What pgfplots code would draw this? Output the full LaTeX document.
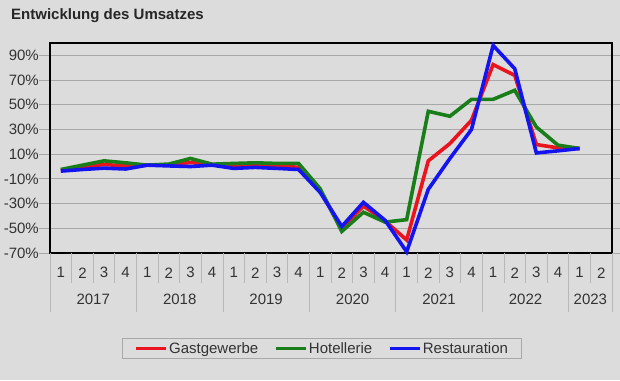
\documentclass[border=0pt]{standalone}
\usepackage{pgfplots}
\pgfplotsset{compat=1.18}
\usepackage{fontspec}
\setmainfont{Liberation Sans}
\definecolor{bg}{HTML}{DCDCDC}
\definecolor{gridc}{HTML}{A8A8A8}
\definecolor{sepc}{HTML}{B8B8B8}
\definecolor{txt}{HTML}{333333}
\definecolor{cred}{RGB}{235,20,30}
\definecolor{cgreen}{RGB}{25,125,25}
\definecolor{cblue}{RGB}{20,20,240}
\pgfplotstableread{
q G H R
0 -3.0 -2.4 -3.7
1 -0.5 1.1 -2.4
2 1.7 4.6 -1.3
3 0.4 3.0 -2.0
4 1.1 1.1 1.1
5 1.3 2.0 0.5
6 3.3 6.5 0.0
7 1.5 1.9 1.1
8 1.0 2.5 -1.5
9 1.0 3.0 -0.7
10 0.0 2.5 -1.5
11 -0.5 2.5 -2.4
12 -20.0 -18.0 -21.0
13 -50.0 -52.5 -48.5
14 -32.0 -37.0 -29.0
15 -44.0 -45.0 -43.5
16 -59.5 -43.0 -69.0
17 4.6 44.7 -18.5
18 18.6 40.7 6.5
19 37.5 54.4 30.0
20 82.5 54.4 98.0
21 73.8 61.7 79.2
22 17.8 32.0 11.0
23 15.1 17.3 12.7
24 14.6 14.6 14.6
}\datatable
\begin{document}
\begin{tikzpicture}[x=1pt,y=1pt]
\fill[bg] (0,0) rectangle (620,380);
\useasboundingbox (0,0) rectangle (620,380);
\node[anchor=west, inner sep=0pt, font=\bfseries\fontsize{15}{18}\selectfont, text=black!85] at (11,364) {Entwicklung des Umsatzes};
\begin{axis}[
  at={(50pt,127pt)}, anchor=south west, scale only axis,
  width=562pt, height=210pt,
  xmin=-0.5, xmax=25.5, ymin=-70, ymax=100,
  xtick={0,...,25},
  xticklabels={1,2,3,4,1,2,3,4,1,2,3,4,1,2,3,4,1,2,3,4,1,2,3,4,1,2},
  xtick style={draw=none},
  xticklabel style={anchor=center, yshift=-8.8pt, inner sep=0pt},
  ytick={-70,-50,...,90},
  ytick style={draw=gridc, line width=1pt},
  tick align=outside, major tick length=11pt,
  yticklabel={\pgfmathprintnumber{\tick}\%},
  /pgf/number format/assume math mode=true,
  yticklabel style={anchor=east, inner sep=0pt},
  ticklabel style={font=\fontsize{15}{18}\selectfont, text=txt},
  ymajorgrids, grid style={draw=gridc, line width=1pt},
  axis line style={line width=1.3pt, black},
  axis background/.style={fill=bg},
  clip=false,
  legend style={at={(0.4835,-0.454)}, anchor=center, legend columns=3,
    draw=gridc, fill=bg, line width=0.8pt, inner xsep=12pt, inner ysep=2pt,
    font=\fontsize{15}{18}\selectfont, text=txt,
    nodes={inner xsep=1.5pt, inner ysep=2pt},
    /tikz/every even column/.append style={column sep=14pt}},
  legend image code/.code={\draw[#1] (0pt,0pt) -- (30pt,0pt);},
  every axis plot/.append style={line width=3.6pt, line join=miter},
]
\addplot[cred] table[x=q, y=G] {\datatable};
\addlegendentry{Gastgewerbe}
\addplot[cgreen] table[x=q, y=H] {\datatable};
\addlegendentry{Hotellerie}
\addplot[cblue] table[x=q, y=R] {\datatable};
\addlegendentry{Restauration}
\end{axis}
\foreach \k in {1,2,3,5,6,7,9,10,11,13,14,15,17,18,19,21,22,23,25} {
  \draw[sepc, line width=0.8pt] ({50+562/26*\k},127) -- ++(0,-30);
}
\foreach \k in {0,4,8,12,16,20,24,26} {
  \draw[sepc, line width=0.8pt] ({50+562/26*\k},127) -- ++(0,-59);
}
\foreach \c/\y in {1.5/2017,5.5/2018,9.5/2019,13.5/2020,17.5/2021,21.5/2022,24.5/2023} {
  \node[font=\fontsize{15}{18}\selectfont, text=txt, inner sep=0pt] at ({50+562/26*(\c+0.5)},{127-46.2}) {\y};
}
\end{tikzpicture}
\end{document}
